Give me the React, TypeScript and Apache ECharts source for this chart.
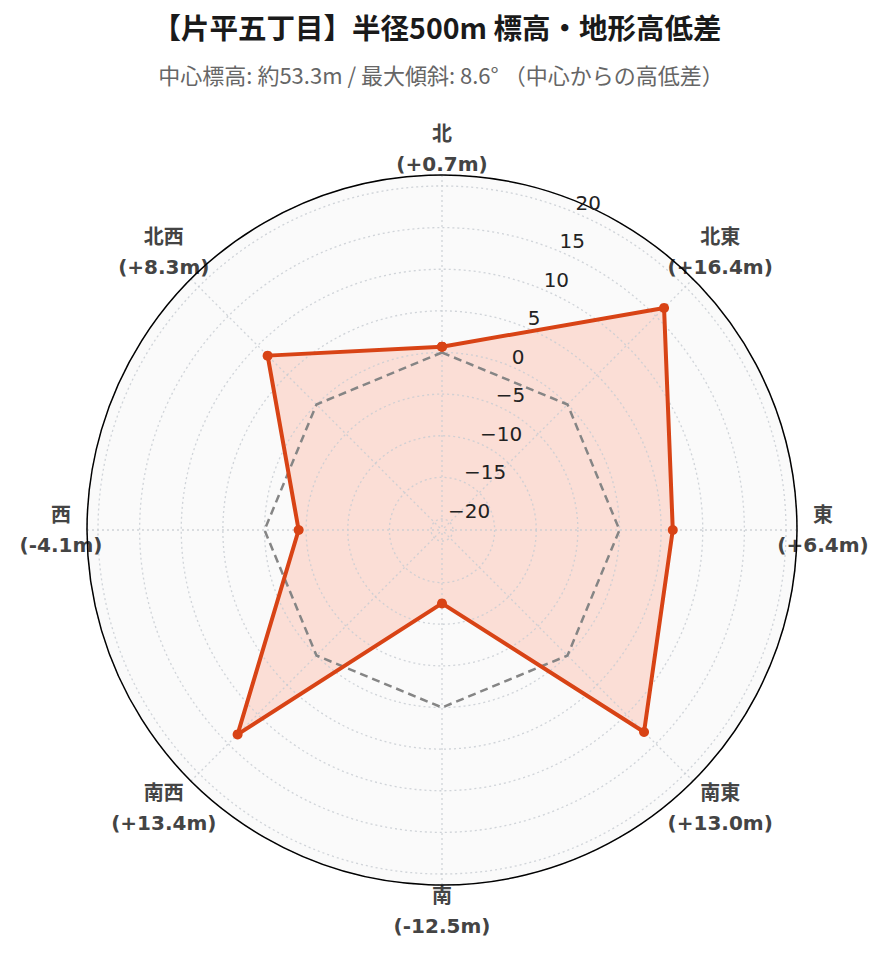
import React, { useEffect, useRef } from "react";
import * as echarts from "echarts";

// 方位と中心からの高低差 (m)
const directions = ["北", "北東", "東", "南東", "南", "南西", "西", "北西"];
const diffs = [0.7, 16.4, 6.4, 13.0, -12.5, 13.4, -4.1, 8.3];
const zeroRef = [0, 0, 0, 0, 0, 0, 0, 0];

// 半径軸
const radialMin = -21.32;
const radialMax = 21.32;
const radialStep = 5;

const titleText = "【片平五丁目】半径500m 標高・地形高低差";
const subText = "中心標高: 約53.3m / 最大傾斜: 8.6° （中心からの高低差）";

const LABEL_FONT = "'DejaVu Sans', 'Noto Sans CJK JP', sans-serif";
const CJK_FONT = "'Noto Sans CJK JP', 'DejaVu Sans', sans-serif";
const GRID_COLOR = "rgba(200, 204, 210, 0.85)";

const step = 360 / directions.length;
// [半径, 角度] — 多角形を閉じるため最初の点を 360° にもう一度置く
const closeLoop = (vals: number[]) => [...vals.map((v, i) => [v, i * step]), [vals[0], 360]];
const fmtDiff = (v: number) => `(${v >= 0 ? "+" : ""}${v.toFixed(1)}m)`;

const App = () => {
    const chartRef = useRef<HTMLDivElement>(null);

    useEffect(() => {
        const chart = echarts.init(chartRef.current, null, { renderer: "svg" });
        const center = [442, 530];
        const radius = 355;

        const labelRich = {
            fontFamily: LABEL_FONT,
            fontSize: 20,
            fontWeight: "bold",
            color: "#444",
            width: 60,
            lineHeight: 30,
            align: "center",
        };

        const option = {
            animation: false,
            backgroundColor: "#fff",
            title: [
                {
                    text: titleText,
                    left: 437,
                    top: 8,
                    padding: 0,
                    textAlign: "center",
                    textStyle: {
                        fontFamily: CJK_FONT,
                        fontSize: 28.5,
                        fontWeight: "bold",
                        color: "#1a1a1a",
                        lineHeight: 36,
                    },
                },
                {
                    text: subText,
                    left: 441,
                    top: 60,
                    padding: 0,
                    textAlign: "center",
                    textStyle: {
                        fontFamily: CJK_FONT,
                        fontSize: 22,
                        fontWeight: "normal",
                        color: "#666",
                        lineHeight: 28,
                    },
                },
            ],
            polar: [
                { center, radius },
                { center, radius },
                { center, radius },
            ],
            angleAxis: [
                {
                    // データ・背景
                    polarIndex: 0,
                    type: "value",
                    min: 0,
                    max: 360,
                    interval: step,
                    startAngle: 90,
                    clockwise: true,
                    axisLine: { show: false },
                    axisTick: { show: false },
                    axisLabel: { show: false },
                    splitLine: { show: false },
                    splitArea: { show: true, areaStyle: { color: ["#fafafa"] } },
                    z: 0,
                },
                {
                    // 目盛ラベル用 (北から 22.5° 傾けた半径軸)
                    polarIndex: 1,
                    type: "value",
                    min: 0,
                    max: 360,
                    startAngle: 67.5,
                    show: false,
                },
                {
                    // 外周・方位ラベル・放射線
                    polarIndex: 2,
                    type: "value",
                    min: 0,
                    max: 360,
                    interval: step,
                    startAngle: 90,
                    clockwise: true,
                    axisLine: { lineStyle: { color: "#000", width: 1.5 } },
                    axisTick: { show: false },
                    axisLabel: {
                        margin: -4,
                        formatter: (v: number) => {
                            const i = Math.round(v / step);
                            if (i >= directions.length) return "";
                            return `{a|${directions[i]}}\n{b|${fmtDiff(diffs[i])}}`;
                        },
                        rich: { a: labelRich, b: labelRich },
                    },
                    splitLine: {
                        show: true,
                        lineStyle: { color: GRID_COLOR, width: 1.3, type: [2, 3] },
                    },
                    splitArea: { show: false },
                    z: 3,
                },
            ],
            radiusAxis: [
                {
                    polarIndex: 0,
                    type: "value",
                    min: radialMin,
                    max: radialMax,
                    minInterval: radialStep,
                    maxInterval: radialStep,
                    axisLine: { show: false },
                    axisTick: { show: false },
                    axisLabel: { show: false },
                    splitLine: {
                        show: true,
                        lineStyle: { color: GRID_COLOR, width: 1.3, type: [2, 3] },
                    },
                    z: 3,
                },
                {
                    polarIndex: 1,
                    type: "value",
                    min: radialMin,
                    max: radialMax,
                    minInterval: radialStep,
                    maxInterval: radialStep,
                    axisLine: { show: false },
                    axisTick: { show: false },
                    splitLine: { show: false },
                    axisLabel: {
                        show: true,
                        margin: -2,
                        align: "left",
                        verticalAlign: "bottom",
                        showMinLabel: false,
                        showMaxLabel: false,
                        fontFamily: LABEL_FONT,
                        fontSize: 20,
                        color: "#222",
                        formatter: (v: number) => (v < 0 ? "\u2212" + Math.abs(v) : String(v)),
                    },
                    z: 7,
                },
                {
                    polarIndex: 2,
                    type: "value",
                    min: radialMin,
                    max: radialMax,
                    show: false,
                },
            ],
            series: [
                {
                    // 塗り
                    type: "line",
                    coordinateSystem: "polar",
                    polarIndex: 0,
                    data: closeLoop(diffs),
                    symbol: "none",
                    lineStyle: { width: 0 },
                    areaStyle: { color: "rgba(255, 110, 70, 0.2)", origin: "start", opacity: 1 },
                    z: 2,
                },
                {
                    // 0m 基準線
                    type: "line",
                    coordinateSystem: "polar",
                    polarIndex: 0,
                    data: closeLoop(zeroRef),
                    symbol: "none",
                    lineStyle: { color: "#858585", width: 2.5, type: [8, 5] },
                    z: 4,
                },
                {
                    type: "line",
                    coordinateSystem: "polar",
                    polarIndex: 0,
                    data: closeLoop(diffs),
                    symbol: "circle",
                    symbolSize: 10,
                    itemStyle: { color: "#d84315" },
                    lineStyle: { color: "#d84315", width: 4 },
                    z: 5,
                },
            ],
        };

        chart.setOption(option);

        return () => {
            chart.dispose();
        };
    }, []);

    return (
        <div
            ref={chartRef}
            style={{ position: "fixed", left: 0, top: 0, width: 889, height: 962 }}
        />
    );
};

export default App;
